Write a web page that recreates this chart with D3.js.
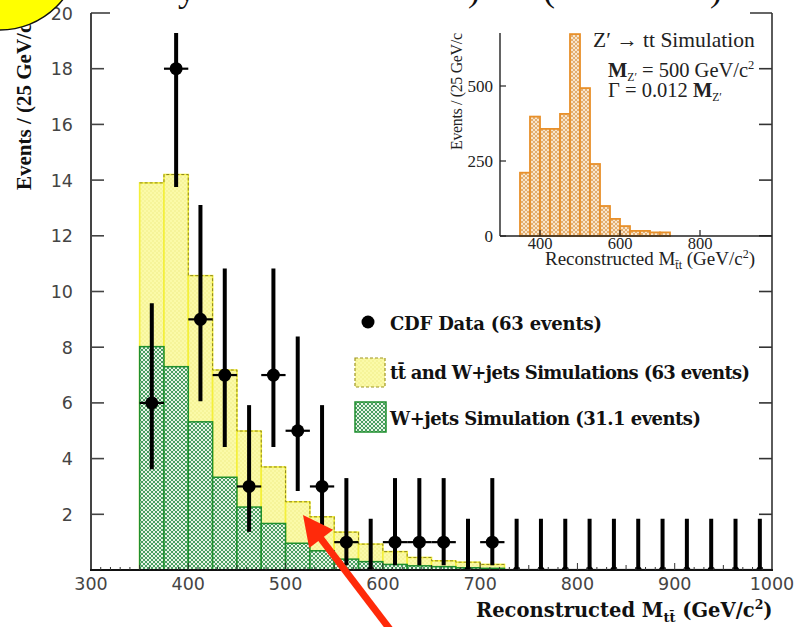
<!DOCTYPE html>
<html>
<head>
<meta charset="utf-8">
<script src="https://cdn.jsdelivr.net/npm/d3@7"></script>
<style>
  html, body { margin: 0; padding: 0; background: #fff; }
  svg { display: block; }
</style>
</head>
<body>
<svg id="chart" width="794" height="627"></svg>
<script>
// ---- main histogram: reconstructed M_tt (25 GeV bins) ----
const simBinLows   = [350, 375, 400, 425, 450, 475, 500, 525, 550, 575, 600, 625, 650, 675, 700];
const ttPlusWjets  = [13.9, 14.2, 10.57, 7.18, 4.99, 3.70, 2.45, 1.91, 1.36, 0.93, 0.66, 0.45, 0.33, 0.28, 0.20];
const wjetsOnly    = [8.02, 7.30, 5.32, 3.33, 2.26, 1.67, 0.96, 0.69, 0.39, 0.30, 0.20, 0.15, 0.12, 0.08, 0.06];

// CDF data, bin centres 362.5 ... 987.5 GeV
const dataCenters = d3.range(26).map(i => 362.5 + 25 * i);
const dataCounts  = [6, 18, 9, 7, 3, 7, 5, 3, 1, 0, 1, 1, 1, 0, 1, 0, 0, 0, 0, 0, 0, 0, 0, 0, 0, 0];
const errLowEnd   = [3.62, 13.75, 6.06, 4.42, 1.37, 4.42, 2.84, 1.37, 0.17, 0, 0.17, 0.17, 0.17, 0, 0.17, 0, 0, 0, 0, 0, 0, 0, 0, 0, 0, 0];
const errHighEnd  = [9.58, 23.3, 13.11, 10.83, 5.92, 10.83, 8.38, 5.92, 3.30, 1.84, 3.30, 3.30, 3.30, 1.84, 3.30, 1.84, 1.84, 1.84, 1.84, 1.84, 1.84, 1.84, 1.84, 1.84, 1.84, 1.84];

const xTicks = [300, 400, 500, 600, 700, 800, 900, 1000];
const yTicks = [2, 4, 6, 8, 10, 12, 14, 16, 18, 20];

// ---- inset: Z' -> tt simulation ----
const insetBinLows = [350, 375, 400, 425, 450, 475, 500, 525, 550, 575, 600, 625, 650, 675, 700];
const insetCounts  = [211, 398, 357, 357, 407, 673, 493, 240, 100, 57, 33, 17, 17, 12, 12];
const insetXTicks  = [400, 600, 800];
const insetYTicks  = [0, 250, 500];

const legendLabels = ["CDF Data (63 events)", "tt\u0304 and W+jets Simulations (63 events)", "W+jets Simulation (31.1 events)"];

const binWidth = 25;

const svg = d3.select("#chart");
const defs = svg.append("defs");

// fill patterns
const pY = defs.append("pattern").attr("id", "hatchYellow").attr("patternUnits", "userSpaceOnUse")
  .attr("width", 4).attr("height", 4);
pY.append("rect").attr("width", 4).attr("height", 4).attr("fill", "#fbfaa8");
pY.append("circle").attr("cx", 1).attr("cy", 1).attr("r", 0.7).attr("fill", "#eeec80");
pY.append("circle").attr("cx", 3).attr("cy", 3).attr("r", 0.7).attr("fill", "#eeec80");

const pG = defs.append("pattern").attr("id", "hatchGreen").attr("patternUnits", "userSpaceOnUse")
  .attr("width", 4).attr("height", 4);
pG.append("rect").attr("width", 4).attr("height", 4).attr("fill", "#e9f4e6");
pG.append("path").attr("d", "M0,0L4,4M4,0L0,4").attr("stroke", "#4a9e62").attr("stroke-width", 1);

const pO = defs.append("pattern").attr("id", "hatchOrange").attr("patternUnits", "userSpaceOnUse")
  .attr("width", 4).attr("height", 4);
pO.append("rect").attr("width", 4).attr("height", 4).attr("fill", "#f8e6cc");
pO.append("path").attr("d", "M0,0L4,4M4,0L0,4").attr("stroke", "#e0a868").attr("stroke-width", 0.9);

// ---- scales ----
const x = d3.scaleLinear().domain([300, 1000]).range([91, 772]);
const y = d3.scaleLinear().domain([0, 20]).range([570, 13]);

defs.append("clipPath").attr("id", "plotClip").append("rect")
  .attr("x", x(300)).attr("y", y(20)).attr("width", x(1000) - x(300)).attr("height", y(0) - y(20));

const plot = svg.append("g").attr("clip-path", "url(#plotClip)");

// total simulation (yellow)
plot.selectAll("rect.tot").data(simBinLows).join("rect")
  .attr("class", "tot")
  .attr("x", d => x(d)).attr("width", d => x(d + binWidth) - x(d))
  .attr("y", (d, i) => y(ttPlusWjets[i]))
  .attr("height", (d, i) => y(0) - y(ttPlusWjets[i]))
  .attr("fill", "url(#hatchYellow)")
  .attr("stroke", "#f4f03a").attr("stroke-width", 1.6);

// dashed outline along the yellow tops
const stepPts = [];
simBinLows.forEach((d, i) => {
  stepPts.push([x(d), y(ttPlusWjets[i])]);
  stepPts.push([x(d + binWidth), y(ttPlusWjets[i])]);
});
plot.append("path")
  .attr("d", d3.line()(stepPts))
  .attr("fill", "none").attr("stroke", "#8c8420").attr("stroke-width", 1)
  .attr("stroke-dasharray", "3,2");

// W+jets (green)
plot.selectAll("rect.wj").data(simBinLows).join("rect")
  .attr("class", "wj")
  .attr("x", d => x(d)).attr("width", d => x(d + binWidth) - x(d))
  .attr("y", (d, i) => y(wjetsOnly[i]))
  .attr("height", (d, i) => y(0) - y(wjetsOnly[i]))
  .attr("fill", "url(#hatchGreen)")
  .attr("stroke", "#1e8f2e").attr("stroke-width", 1.5);

// data points with error bars
const pts = dataCenters.map((c, i) => ({ c, n: dataCounts[i], lo: errLowEnd[i], hi: errHighEnd[i] }));
plot.selectAll("line.ev").data(pts).join("line")
  .attr("class", "ev")
  .attr("x1", d => x(d.c)).attr("x2", d => x(d.c))
  .attr("y1", d => y(d.lo)).attr("y2", d => y(d.hi))
  .attr("stroke", "#000").attr("stroke-width", 4);
plot.selectAll("line.eh").data(pts).join("line")
  .attr("class", "eh")
  .attr("x1", d => x(d.c - binWidth / 2)).attr("x2", d => x(d.c + binWidth / 2))
  .attr("y1", d => y(d.n)).attr("y2", d => y(d.n))
  .attr("stroke", "#000").attr("stroke-width", 2.2);
plot.selectAll("circle.pt").data(pts).join("circle")
  .attr("class", "pt")
  .attr("cx", d => x(d.c)).attr("cy", d => y(d.n))
  .attr("r", d => d.n > 0 ? 6.5 : 3.5)
  .attr("fill", "#000");

// ---- axes / frame ----
const frame = svg.append("g");
frame.append("line").attr("x1", x(300)).attr("x2", x(300)).attr("y1", y(20)).attr("y2", y(0))
  .attr("stroke", "#444").attr("stroke-width", 2);
frame.append("line").attr("x1", x(1000)).attr("x2", x(1000)).attr("y1", y(20)).attr("y2", y(0))
  .attr("stroke", "#333").attr("stroke-width", 1.6);
frame.append("line").attr("x1", x(300)).attr("x2", x(1000)).attr("y1", y(20)).attr("y2", y(20))
  .attr("stroke", "#333").attr("stroke-width", 1.6);
frame.append("line").attr("x1", x(300) - 1).attr("x2", x(1000) + 1).attr("y1", y(0)).attr("y2", y(0))
  .attr("stroke", "#111").attr("stroke-width", 2);

// y ticks (inward on both sides)
frame.selectAll("line.ytl").data(yTicks.filter(t => t < 20)).join("line")
  .attr("x1", x(300)).attr("x2", x(300) + 13).attr("y1", d => y(d)).attr("y2", d => y(d))
  .attr("stroke", "#444").attr("stroke-width", 1.6);
frame.selectAll("line.ytr").data(yTicks.filter(t => t < 20)).join("line")
  .attr("x1", x(1000)).attr("x2", x(1000) - 13).attr("y1", d => y(d)).attr("y2", d => y(d))
  .attr("stroke", "#333").attr("stroke-width", 1.6);

// x minor / major ticks
const xMinor = d3.range(310, 1000, 10);
frame.selectAll("line.xt").data(xMinor).join("line")
  .attr("x1", d => x(d)).attr("x2", d => x(d))
  .attr("y1", y(0)).attr("y2", d => y(0) - (d % 100 === 0 ? 7 : (d % 50 === 0 ? 5 : 3)))
  .attr("stroke", "#333").attr("stroke-width", 1);

// tick labels
frame.selectAll("text.yl").data(yTicks).join("text")
  .attr("x", x(300) - 18).attr("y", d => y(d) + 6.5)
  .attr("text-anchor", "end")
  .attr("font-family", "DejaVu Sans, sans-serif").attr("font-size", 17.5)
  .attr("fill", "#444").text(d => d);
frame.selectAll("text.xl").data(xTicks).join("text")
  .attr("x", d => x(d)).attr("y", 590)
  .attr("text-anchor", "middle")
  .attr("font-family", "DejaVu Sans, sans-serif").attr("font-size", 17.5)
  .attr("fill", "#444").text(d => d);

// axis titles
const boldSerif = "DejaVu Serif, serif";
const xTitle = svg.append("text").attr("x", 476).attr("y", 617)
  .attr("font-family", boldSerif).attr("font-weight", "bold").attr("font-size", 19.5).attr("fill", "#111");
xTitle.append("tspan").text("Reconstructed M");
xTitle.append("tspan").attr("dy", 5).attr("font-size", 13).text("tt\u0304");
xTitle.append("tspan").attr("dy", -5).text(" (GeV/c");
xTitle.append("tspan").attr("dy", -8).attr("font-size", 12.5).text("2");
xTitle.append("tspan").attr("dy", 8).text(")");

const yTitle = svg.append("text").attr("transform", "translate(31,190) rotate(-90)")
  .attr("font-family", "Liberation Serif, serif").attr("font-weight", "bold").attr("font-size", 21).attr("fill", "#111");
yTitle.append("tspan").text("Events / (25 GeV/c");
yTitle.append("tspan").attr("dy", -8).attr("font-size", 14).text("2");
yTitle.append("tspan").attr("dy", 8).text(")");

// ---- legend ----
const lg = svg.append("g").attr("font-family", boldSerif).attr("font-weight", "bold")
  .attr("font-size", 18).attr("fill", "#111");
lg.append("circle").attr("cx", 368).attr("cy", 322).attr("r", 6.5).attr("fill", "#000");
lg.append("text").attr("x", 390).attr("y", 330).attr("textLength", 212).text(legendLabels[0]);
lg.append("rect").attr("x", 355).attr("y", 358).attr("width", 30).attr("height", 29)
  .attr("fill", "url(#hatchYellow)").attr("stroke", "#a09620").attr("stroke-width", 1.2).attr("stroke-dasharray", "3,2");
lg.append("text").attr("x", 390).attr("y", 379).attr("textLength", 360).text(legendLabels[1]);
lg.append("rect").attr("x", 355).attr("y", 402).attr("width", 31).attr("height", 30)
  .attr("fill", "url(#hatchGreen)").attr("stroke", "#1e8f2e").attr("stroke-width", 1.5);
lg.append("text").attr("x", 390).attr("y", 425).attr("textLength", 311).text(legendLabels[2]);

// ---- inset ----
const ix = d3.scaleLinear().domain([300, 1000]).range([500, 780]);
const iy = d3.scaleLinear().domain([0, 700]).range([236, 26]);
const inset = svg.append("g");

inset.selectAll("rect.zb").data(insetBinLows).join("rect")
  .attr("class", "zb")
  .attr("x", d => ix(d)).attr("width", d => ix(d + binWidth) - ix(d))
  .attr("y", (d, i) => iy(insetCounts[i]))
  .attr("height", (d, i) => iy(0) - iy(insetCounts[i]))
  .attr("fill", "url(#hatchOrange)")
  .attr("stroke", "#e8902a").attr("stroke-width", 1.8);

inset.append("line").attr("x1", ix(300)).attr("x2", ix(300)).attr("y1", iy(700)).attr("y2", iy(0))
  .attr("stroke", "#222").attr("stroke-width", 1.4);
inset.append("line").attr("x1", ix(300)).attr("x2", x(1000)).attr("y1", iy(0)).attr("y2", iy(0))
  .attr("stroke", "#222").attr("stroke-width", 1.4);
inset.selectAll("line.iyt").data(insetYTicks).join("line")
  .attr("x1", ix(300)).attr("x2", ix(300) + 6).attr("y1", d => iy(d)).attr("y2", d => iy(d))
  .attr("stroke", "#222").attr("stroke-width", 1.2);
inset.selectAll("line.ixt").data(insetXTicks).join("line")
  .attr("x1", d => ix(d)).attr("x2", d => ix(d)).attr("y1", iy(0)).attr("y2", iy(0) - 6)
  .attr("stroke", "#222").attr("stroke-width", 1.2);

const iFont = "Liberation Serif, serif";
inset.selectAll("text.iyl").data(insetYTicks).join("text")
  .attr("x", ix(300) - 7).attr("y", d => iy(d) + 6)
  .attr("text-anchor", "end").attr("font-family", iFont).attr("font-size", 17).attr("fill", "#222")
  .text(d => d);
inset.selectAll("text.ixl").data(insetXTicks).join("text")
  .attr("x", d => ix(d)).attr("y", 249)
  .attr("text-anchor", "middle").attr("font-family", iFont).attr("font-size", 16.5).attr("fill", "#222")
  .text(d => d);

const ixTitle = inset.append("text").attr("x", 545).attr("y", 265)
  .attr("font-family", iFont).attr("font-size", 19).attr("fill", "#222");
ixTitle.append("tspan").text("Reconstructed M");
ixTitle.append("tspan").attr("dy", 4).attr("font-size", 12).text("t\u0304t");
ixTitle.append("tspan").attr("dy", -4).text(" (GeV/c");
ixTitle.append("tspan").attr("dy", -7).attr("font-size", 12).text("2");
ixTitle.append("tspan").attr("dy", 7).text(")");

// rotated inset y title; the tail sits under the title band
inset.append("text").attr("transform", "translate(462,150) rotate(-90)")
  .attr("font-family", iFont).attr("font-size", 16).attr("fill", "#222")
  .attr("textLength", 117).text("Events / (25 GeV/c");
inset.append("text").attr("transform", "translate(462,31) rotate(-90)")
  .attr("font-family", iFont).attr("font-size", 16).attr("fill", "#222")
  .text("\u00b2)");

inset.append("text").attr("x", 593).attr("y", 47)
  .attr("font-family", iFont).attr("font-size", 21.5).attr("fill", "#222")
  .text("Z\u2032 \u2192 tt Simulation");
const mz = inset.append("text").attr("x", 608).attr("y", 77)
  .attr("font-family", iFont).attr("font-size", 20.5).attr("fill", "#222");
mz.append("tspan").attr("font-weight", "bold").text("M");
mz.append("tspan").attr("dy", 4).attr("font-size", 11.5).text("Z\u2032");
mz.append("tspan").attr("dy", -4).text(" = 500 GeV/c");
mz.append("tspan").attr("dy", -8).attr("font-size", 12.5).text("2");
const gm = inset.append("text").attr("x", 608).attr("y", 97)
  .attr("font-family", iFont).attr("font-size", 20.5).attr("fill", "#222");
gm.append("tspan").text("\u0393 = 0.012 ");
gm.append("tspan").attr("font-weight", "bold").text("M");
gm.append("tspan").attr("dy", 4).attr("font-size", 11.5).text("Z\u2032");

// ---- slide layer: title band, badge and pointer ----
const slide = svg.append("g");
slide.append("rect").attr("x", 110).attr("y", 0).attr("width", 640).attr("height", 33).attr("fill", "#fff");
slide.selectAll("text.tt").data([["y", 178], [")", 468], ["(", 543], [")", 710]]).join("text")
  .attr("x", d => d[1]).attr("y", 1)
  .attr("font-family", "Liberation Serif, serif").attr("font-size", 36).attr("fill", "#111")
  .text(d => d[0]);
slide.append("circle").attr("cx", 0).attr("cy", -50).attr("r", 80)
  .attr("fill", "#ffff00").attr("stroke", "#111").attr("stroke-width", 1.5);

// red pointer arrow
const tip = [303, 515], tail = [392, 632];
const dx = tip[0] - tail[0], dy = tip[1] - tail[1];
const len = Math.hypot(dx, dy), ux = dx / len, uy = dy / len;
const headLen = 30, headHalf = 15;
const base = [tip[0] - ux * headLen, tip[1] - uy * headLen];
slide.append("line").attr("x1", tail[0]).attr("y1", tail[1]).attr("x2", base[0] + ux * 2).attr("y2", base[1] + uy * 2)
  .attr("stroke", "#ff2a0a").attr("stroke-width", 7);
slide.append("path")
  .attr("d", `M${tip[0]},${tip[1]}L${base[0] - uy * headHalf},${base[1] + ux * headHalf}L${base[0] + uy * headHalf},${base[1] - ux * headHalf}Z`)
  .attr("fill", "#ff2a0a");
</script>
</body>
</html>
